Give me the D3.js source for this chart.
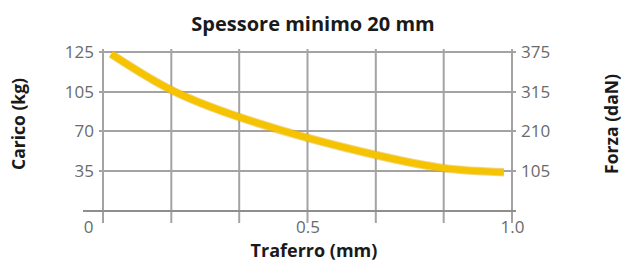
<!DOCTYPE html>
<html><head><meta charset="utf-8">
<script src="https://cdn.jsdelivr.net/npm/d3@7"></script>
<style>
html,body{margin:0;padding:0;background:#fff;}
svg{display:block;}
text{font-family:"Open Sans",sans-serif;}
</style></head>
<body>
<svg id="c" width="625" height="262"></svg>
<script>
// Data
const traferro = [0.02, 0.167, 0.333, 0.5, 0.667, 0.833, 0.98];
const carico   = [124, 106, 82.5, 64, 49, 37.5, 34];
const xTicks = [0, 0.5, 1.0];
const xTickLabels = ["0", "0.5", "1.0"];
const xGrid = [0, 0.167, 0.333, 0.5, 0.667, 0.833, 1.0];
const leftTicks = [35, 70, 105, 125];
const rightTicks = [105, 210, 315, 375];
const title = "Spessore minimo 20 mm";
const xTitle = "Traferro (mm)";
const yTitleL = "Carico (kg)";
const yTitleR = "Forza (daN)";

const svg = d3.select("#c");
const x = d3.scaleLinear().domain([0, 1]).range([103, 512]);
const y = d3.scaleLinear().domain([0, 35, 70, 105, 125]).range([211, 171, 131, 92, 52]);
const yR = d3.scaleLinear().domain([0, 105, 210, 315, 375]).range([211, 171, 131, 92, 52]);

const gridColor = "#a3a3a3";
svg.append("g").selectAll("line").data(xGrid).join("line")
  .attr("x1", d => x(d)).attr("x2", d => x(d))
  .attr("y1", 49).attr("y2", 223)
  .attr("stroke", gridColor).attr("stroke-width", 2);
svg.append("g").selectAll("line").data(leftTicks).join("line")
  .attr("x1", 99).attr("x2", 516)
  .attr("y1", d => y(d)).attr("y2", d => y(d))
  .attr("stroke", gridColor).attr("stroke-width", 2);
svg.append("line").attr("x1", 83).attr("x2", 516)
  .attr("y1", y(0)).attr("y2", y(0))
  .attr("stroke", "#8e8e8e").attr("stroke-width", 2);

const line = d3.line().x((d, i) => x(traferro[i])).y(d => y(d)).curve(d3.curveNatural);
svg.append("path").datum(carico).attr("d", line)
  .attr("fill", "none").attr("stroke", "#e3ab00").attr("stroke-width", 8.5).attr("opacity", 0.5);
svg.append("path").datum(carico).attr("d", line)
  .attr("fill", "none").attr("stroke", "#f5c300").attr("stroke-width", 6.5);

const axL = svg.append("g").attr("transform", "translate(94,0)")
  .call(d3.axisLeft(y).tickValues(leftTicks).tickSize(0).tickPadding(0));
const axR = svg.append("g").attr("transform", "translate(521,0)")
  .call(d3.axisRight(yR).tickValues(rightTicks).tickSize(0).tickPadding(0));
const axB = svg.append("g").attr("transform", "translate(0,221)")
  .call(d3.axisBottom(x).tickValues(xTicks).tickFormat((d, i) => xTickLabels[i]).tickSize(0).tickPadding(0));
[axL, axR, axB].forEach(a => {
  a.select(".domain").remove();
  a.selectAll("text").attr("font-family", "Open Sans, sans-serif").attr("font-size", 17)
    .attr("fill", "#6a6a6a");
});
axB.selectAll("text").attr("dy", "0.72em");
axB.selectAll(".tick").filter(d => d === 0).select("text").attr("dx", -15);

svg.append("text").attr("x", 313).attr("y", 31).attr("text-anchor", "middle")
  .attr("font-weight", "bold").attr("font-size", 20).attr("fill", "#1a1a1a").text(title);
svg.append("text").attr("x", 314).attr("y", 257).attr("text-anchor", "middle")
  .attr("font-weight", "bold").attr("font-size", 18).attr("fill", "#1a1a1a").text(xTitle);
svg.append("text").attr("transform", "translate(25,124) rotate(-90)").attr("text-anchor", "middle")
  .attr("font-weight", "bold").attr("font-size", 17.5).attr("fill", "#1a1a1a").text(yTitleL);
svg.append("text").attr("transform", "translate(618,124) rotate(-90)").attr("text-anchor", "middle")
  .attr("font-weight", "bold").attr("font-size", 17.5).attr("fill", "#1a1a1a").text(yTitleR);
</script>
</body></html>
